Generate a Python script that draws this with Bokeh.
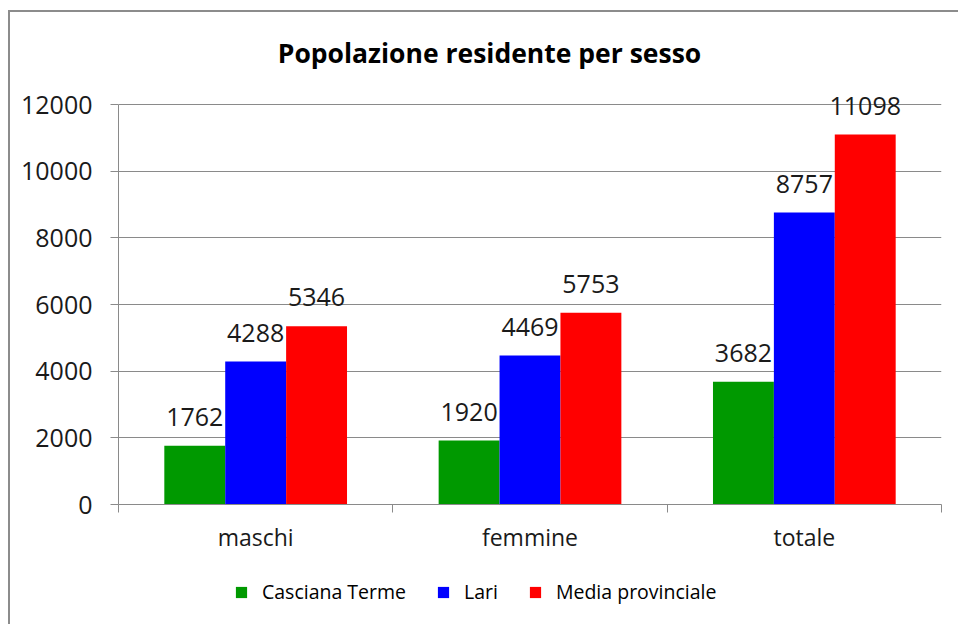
import numpy as np
from bokeh.plotting import figure
from bokeh.layouts import column
from bokeh.models import (ColumnDataSource, Range1d, FixedTicker, Legend, LegendItem,
                          Label)
from bokeh.core.properties import value
from bokeh.embed import file_html
from bokeh.resources import INLINE

categories = ["maschi", "femmine", "totale"]
series_names = ["Casciana Terme", "Lari", "Media provinciale"]
casciana = [1762, 1920, 3682]
lari = [4288, 4469, 8757]
media = [5346, 5753, 11098]
colors = ["#009900", "#0000FF", "#FF0000"]
y_ticks = [0, 2000, 4000, 6000, 8000, 10000, 12000]

FONT = "Open Sans"
GRAY = "#8a8a8a"

W, HP, HL = 948, 552, 60
# frame spans the canvas top; the value axis keeps 400px per 12000
Y_TOP = 14760
p = figure(width=W, height=HP, output_backend="svg", toolbar_location=None,
           title=None,
           x_range=Range1d(0, len(categories)), y_range=Range1d(0, Y_TOP),
           min_border_left=108, min_border_right=17, min_border_top=0,
           min_border_bottom=60)
p.outline_line_color = None

bar_w = 0.222
offsets = [-bar_w, 0.0, bar_w]
centers = np.arange(len(categories)) + 0.5
for name, vals, col, off in zip(series_names, [casciana, lari, media], colors, offsets):
    src = ColumnDataSource(dict(x=centers + off, top=vals,
                                lab=[str(v) for v in vals]))
    p.vbar(x="x", top="top", width=bar_w, bottom=0, source=src,
           fill_color=col, line_color=None)
    p.text(x="x", y="top", text="lab", source=src, text_align="center",
           text_baseline="alphabetic", y_offset=-29, text_font=value(FONT),
           text_font_size="25px", text_color="#1a1a1a")

# axes
xa = p.xaxis[0]
xa.ticker = FixedTicker(ticks=list(centers), minor_ticks=list(range(len(categories) + 1)))
xa.major_label_overrides = {float(c): cat for c, cat in zip(centers, categories)}
xa.major_tick_out = 0
xa.major_tick_in = 0
xa.minor_tick_out = 8
xa.minor_tick_in = 0
xa.minor_tick_line_color = GRAY
xa.axis_line_color = GRAY
xa.major_label_text_font = FONT
xa.major_label_text_font_size = "23px"
xa.major_label_text_color = "#1a1a1a"
xa.major_label_standoff = 8

ya = p.yaxis[0]
ya.ticker = FixedTicker(ticks=y_ticks)
ya.bounds = (y_ticks[0], y_ticks[-1])
ya.minor_tick_line_color = None
ya.major_tick_out = 8
ya.major_tick_in = 0
ya.major_tick_line_color = GRAY
ya.axis_line_color = GRAY
ya.major_label_text_font = FONT
ya.major_label_text_font_size = "25px"
ya.major_label_text_color = "#1a1a1a"
ya.major_label_standoff = 18

p.xgrid.grid_line_color = None
p.ygrid.grid_line_color = GRAY
p.ygrid.grid_line_width = 1

title = Label(x=371, y=452, x_units="screen", y_units="screen",
              text="Popolazione residente per sesso", text_align="center",
              text_baseline="middle", text_font=FONT, text_font_style="bold",
              text_font_size="26.5px", text_color="#000000")
p.add_layout(title)

# legend strip below the chart (frames are aligned with the chart above)
lf = figure(width=W, height=HL, output_backend="svg", toolbar_location=None,
            min_border=0, x_axis_location=None, y_axis_location=None,
            x_range=Range1d(0, 1), y_range=Range1d(0, 1))
lf.outline_line_color = None
lf.grid.grid_line_color = None
items = []
for name, col in zip(series_names, colors):
    r = lf.vbar(x=[-10], top=[-10], bottom=-20, width=0.1, fill_color=col, line_color=None)
    items.append(LegendItem(label=name, renderers=[r]))
legend = Legend(items=items, orientation="horizontal", location=(116, 19),
                glyph_width=14, glyph_height=14, label_standoff=14, spacing=30,
                label_text_font=FONT, label_text_font_size="19.5px",
                label_text_color="#000000", border_line_color=None,
                background_fill_alpha=0, padding=0, margin=0)
lf.add_layout(legend, "center")

layout = column(p, lf, spacing=0,
                styles={"border-left": "2px solid #8c8c8c",
                        "border-top": "2px solid #8c8c8c",
                        "margin-top": "10px", "margin-left": "8px"})

open("out.html", "w").write(file_html(layout, INLINE))
